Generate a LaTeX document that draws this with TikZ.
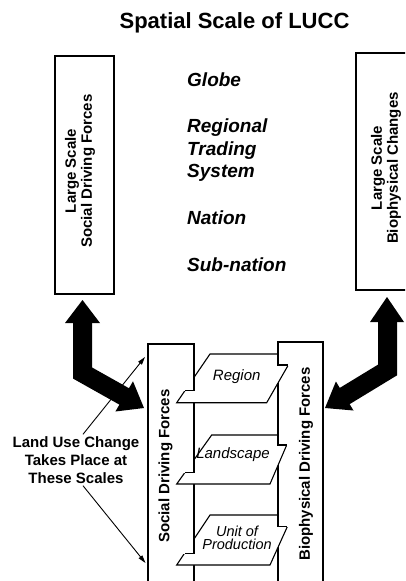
\documentclass[tikz,border=0pt]{standalone}
\usepackage{fontspec}
\setmainfont{Liberation Sans}
\usetikzlibrary{arrows.meta,calc}
\begin{document}
\begin{tikzpicture}[x=1pt,y=-1pt,
  box/.style={draw,line width=1.3pt,fill=white,outer sep=0pt,inner sep=0pt},
  plane/.style={draw,line width=1.1pt,fill=white,line join=miter},
  colline/.style={line width=1.3pt},
  boxlabel/.style={font=\fontsize{15}{16}\selectfont\bfseries,align=center,rotate=90,inner sep=0pt},
  scalelabel/.style={font=\fontsize{19}{22.5}\selectfont\bfseries\itshape,anchor=base west,inner sep=0pt},
  planelabel/.style={font=\fontsize{15}{13.5}\selectfont\itshape,align=center,inner sep=0pt},
  bigshaft/.style={line width=19pt,line join=miter},
  thinarrow/.style={line width=0.9pt,-{Triangle[length=8pt,width=4.5pt]}}
]
\useasboundingbox (0,0) rectangle (405,581);
\clip (0,0) rectangle (405,581);

% title
\node[font=\fontsize{22}{26}\selectfont\bfseries,inner sep=0pt] (title) at (234.5,22.5) {Spatial Scale of LUCC};

% large boxes
\node[box,anchor=north west,minimum width=59pt,minimum height=238pt] (lbox) at (55,56) {};
\node[box,anchor=north west,minimum width=60pt,minimum height=237pt] (rbox) at (356,53) {};
\node[boxlabel] (lboxtext) at (80,171) {Large Scale\\Social Driving Forces};
\node[boxlabel] (rboxtext) at (386,168) {Large Scale\\Biophysical Changes};

% scale labels
\node[scalelabel] (globe) at (187,86.3) {Globe};
\node[scalelabel] (reg1) at (187,132.7) {Regional};
\node[scalelabel] (reg2) at (187,155.4) {Trading};
\node[scalelabel] (reg3) at (187,177.7) {System};
\node[scalelabel] (nation) at (187,224.4) {Nation};
\node[scalelabel] (subnation) at (187,271) {Sub-nation};

% columns
\node[box,anchor=north west,minimum width=46pt,minimum height=262pt] (lcol) at (148,344) {};
\node[box,anchor=north west,minimum width=45pt,minimum height=264pt] (rcol) at (278,342) {};

% Region plane
\draw[plane] (210,354) -- (294.6,354) -- (266.7,402.7) -- (176.7,402.7) -- cycle;
\begin{scope}
  \clip (140,350) rectangle (200,390.7);
  \draw[box] (lcol.north west) rectangle (lcol.south east);
\end{scope}
\draw[colline] (194,390.7) -- (184.9,390.7);
\begin{scope}
  \clip (270,350) rectangle (330,365);
  \draw[box] (rcol.north west) rectangle (rcol.south east);
\end{scope}
\draw[colline] (278,365) -- (288.3,365);

% Landscape plane
\draw[plane] (211.7,435) -- (291,435) -- (270,484) -- (176.7,484) -- cycle;
\begin{scope}
  \clip (140,431) rectangle (200,472.7);
  \draw[box] (lcol.north west) rectangle (lcol.south east);
\end{scope}
\draw[colline] (194,472.7) -- (184.8,472.7);
\begin{scope}
  \clip (270,431) rectangle (330,445);
  \draw[box] (rcol.north west) rectangle (rcol.south east);
\end{scope}
\draw[colline] (278,445) -- (286.7,445);

% Unit of Production plane
\draw[plane] (210,515) -- (292.6,515) -- (270,565) -- (176.7,565) -- cycle;
\begin{scope}
  \clip (140,511) rectangle (200,553.3);
  \draw[box] (lcol.north west) rectangle (lcol.south east);
\end{scope}
\draw[colline] (194,553.3) -- (184.5,553.3);
\begin{scope}
  \clip (270,511) rectangle (330,526.7);
  \draw[box] (rcol.north west) rectangle (rcol.south east);
\end{scope}
\draw[colline] (278,526.7) -- (287.3,526.7);

% column and plane labels
\node[boxlabel] (lcoltext) at (165.6,466) {Social Driving Forces};
\node[boxlabel] (rcoltext) at (306,464) {Biophysical Driving Forces};
\node[planelabel] (region) at (236.7,377) {Region};
\node[planelabel] (landscape) at (233,455) {Landscape};
\node[planelabel,font=\fontsize{14.5}{13.5}\selectfont\itshape] (unit) at (237,538) {Unit of\\Production};

% big double arrows
\fill (65,323) -- (100,323) -- (82.5,300) -- cycle;
\draw[bigshaft] (82.5,318) -- (82.5,373) -- (127.7,398.4);
\fill (144,408) -- (115.4,411.5) -- (133,381.3) -- cycle;

\fill (370,322) -- (404,322) -- (387,297) -- cycle;
\draw[bigshaft] (387.5,318) -- (387.5,370) -- (341.3,398.1);
\fill (325,408) -- (353.5,410.5) -- (335.9,381.5) -- cycle;

% label with thin arrows
\node[font=\fontsize{15}{18}\selectfont\bfseries,align=center,inner sep=2pt] (lab) at (76,460)
  {Land Use Change\\Takes Place at\\These Scales};
\coordinate (t1) at (145,357);
\coordinate (t2) at (145.5,563);
\draw[thinarrow] ([xshift=7pt]lab.north) -- (t1);
\draw[thinarrow] ([xshift=7pt]lab.south) -- (t2);
\end{tikzpicture}
\end{document}
